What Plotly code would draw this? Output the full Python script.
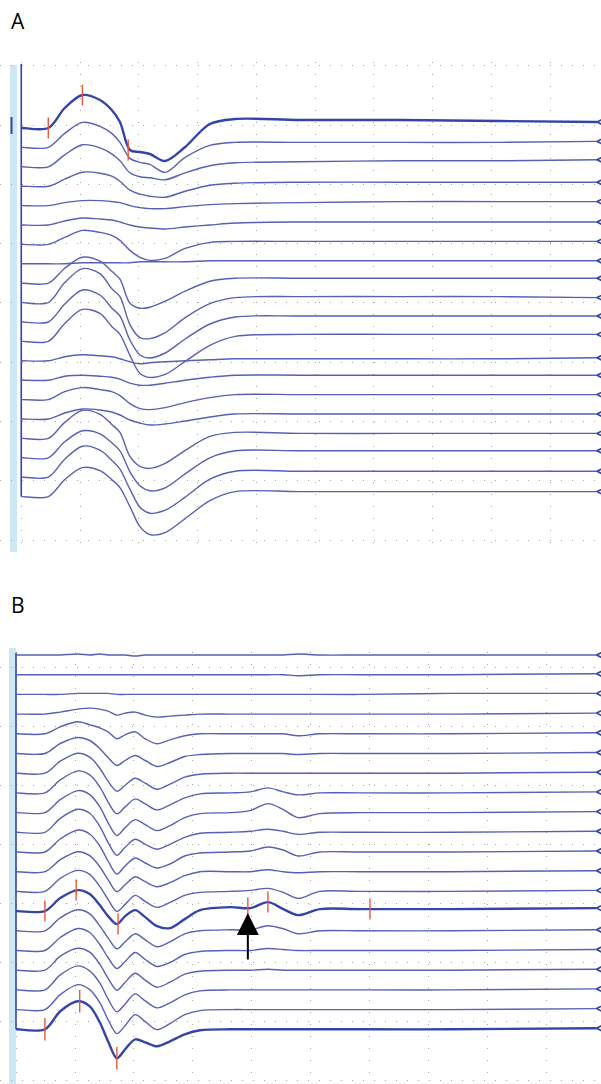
import plotly.graph_objects as go

# ---------------- Panel A ----------------
# sample times (ms) of the key points of every sweep
a_time_ms = [0.15, 2.3, 3.7, 5.2, 6.7, 7.7, 8.4, 9.25, 10.1, 10.95, 12.25, 13.95, 16.05, 18.2, 23.7, 32.2, 40.75, 49.0]
# amplitudes (uV) relative to each sweep's own baseline, top sweep first
a_sweeps_uv = [
    [0, 0, 200, 330, 280, 180, 60, -220, -240, -260, -330, -190, 40, 90, 80, 80, 70, 60],
    [0, 0, 140, 250, 210, 140, 50, -110, -150, -170, -250, -100, 20, 50, 50, 50, 50, 60],
    [0, 0, 120, 220, 190, 130, 60, -60, -100, -110, -130, -60, 10, 40, 50, 60, 60, 70],
    [0, 0, 70, 140, 130, 100, 50, -40, -80, -100, -110, -50, 10, 30, 40, 40, 40, 40],
    [0, 0, 30, 50, 50, 40, 30, 0, -20, -30, -30, -10, 10, 20, 30, 40, 40, 40],
    [0, 0, 40, 70, 60, 50, 30, 0, -20, -30, -40, -20, 0, 20, 30, 30, 30, 30],
    [0, 0, 70, 140, 120, 90, 40, -60, -130, -160, -140, -40, 20, 30, 30, 30, 30, 30],
    [0, 0, 0, 10, 10, 10, 10, 10, 20, 20, 20, 20, 30, 30, 30, 30, 30, 30],
    [0, 0, 150, 260, 220, 120, 40, -200, -250, -240, -180, -80, 20, 50, 50, 50, 50, 50],
    [0, 0, 200, 340, 290, 140, 60, -220, -350, -360, -300, -150, -10, 50, 60, 60, 60, 50],
    [0, 0, 180, 320, 270, 140, 60, -180, -330, -360, -310, -170, -20, 50, 60, 60, 60, 60],
    [0, 0, 180, 320, 280, 150, 70, -140, -320, -360, -330, -200, -40, 50, 70, 70, 70, 70],
    [0, 0, 40, 60, 50, 40, 20, -10, -30, -20, -10, 0, 10, 20, 20, 20, 20, 30],
    [0, 0, 40, 50, 40, 30, 10, -30, -50, -50, -30, 0, 30, 50, 50, 50, 50, 50],
    [0, 0, 80, 120, 100, 80, 40, -40, -90, -100, -80, -30, 20, 50, 50, 50, 50, 50],
    [0, 0, 60, 100, 90, 70, 40, -10, -40, -60, -50, -20, 20, 50, 50, 50, 50, 50],
    [0, 0, 160, 280, 240, 140, 60, -180, -280, -300, -250, -120, 20, 60, 50, 50, 50, 50],
    [0, 0, 160, 270, 240, 150, 70, -140, -280, -330, -300, -160, 0, 70, 70, 70, 70, 70],
    [0, 0, 180, 310, 270, 170, 80, -120, -300, -360, -330, -200, -20, 60, 60, 60, 60, 60],
    [0, 0, 170, 290, 260, 170, 90, -100, -300, -380, -360, -220, -40, 50, 50, 50, 50, 50],
]
a_step_uv = 194
a_cursor_t = [2.3, 5.2, 9.1]
a_cursor_uv = [0, 330, -220]

# ---------------- Panel B ----------------
b_time_ms = [0.1, 2.45, 3.75, 5.25, 6.25, 7.1, 7.8, 8.55, 9.25, 10.1, 10.95, 11.95, 13.05, 14.3,
             15.6, 18.15, 19.85, 21.35, 22.65, 23.9, 25.75, 29.15, 36.8, 49.2]
b_sweeps_uv = [
    [0, 0, 0, 10, 0, 10, 0, 0, 0, -10, 0, 0, 0, 0, 0, 0, 0, 0, 0, 10, 0, 0, 0, 0],
    [0, 0, 0, 0, 0, 0, 0, 0, 0, 0, 0, 0, 0, 0, 0, 0, 0, 0, 0, -10, 0, 0, 0, 10],
    [0, 0, 0, 10, 10, 10, 10, 0, 0, 0, 0, 0, 0, 0, 0, 0, 0, 0, 0, 0, 0, 0, 10, 10],
    [0, 0, 20, 50, 60, 50, 30, -10, 10, 20, -10, -30, -20, -10, 0, 0, 0, 0, 0, 0, 0, 0, 0, 10],
    [0, 0, 70, 120, 90, 60, 20, -50, -10, 20, -50, -100, -60, -20, 0, 0, 0, 0, 0, -20, 0, 0, 0, 10],
    [0, 0, 100, 160, 130, 50, -40, -120, -70, -20, -70, -130, -90, -30, -10, 0, 0, 0, 0, -10, 0, 0, 0, 10],
    [0, 0, 120, 200, 160, 50, -80, -180, -120, -50, -100, -160, -110, -40, -10, 0, 0, 0, 0, 0, 0, 0, 0, 10],
    [0, 0, 130, 220, 180, 60, -90, -210, -140, -60, -110, -170, -120, -50, -10, 0, 10, 50, 10, -20, 0, 0, 0, 10],
    [0, 0, 130, 220, 180, 60, -100, -230, -150, -70, -120, -180, -130, -50, -10, 0, 20, 90, 30, -50, -10, 0, 0, 10],
    [0, 0, 140, 230, 190, 60, -100, -230, -150, -70, -120, -170, -120, -50, -10, 0, 10, 30, 10, -20, 0, 0, 0, 10],
    [0, 0, 130, 220, 180, 60, -90, -220, -140, -60, -110, -160, -120, -40, -10, 0, 10, 50, 20, -40, 0, 0, 0, 10],
    [0, 0, 120, 200, 160, 50, -80, -200, -130, -50, -100, -150, -110, -40, 0, 0, 0, 20, 0, -10, 0, 0, 0, 10],
    [0, 0, 130, 210, 170, 50, -80, -200, -130, -40, -100, -160, -110, -40, -10, 0, 10, 30, -10, -70, 0, 0, 0, 10],
    [0, 0, 130, 210, 170, 60, -50, -130, -50, 10, -60, -150, -170, -80, 10, 40, 30, 90, 20, -40, 20, 20, 20, 30],
    [0, 0, 130, 210, 170, 50, -70, -180, -110, -30, -90, -160, -110, -30, 0, 10, 10, 50, 20, -30, 0, 0, 0, 10],
    [0, 0, 130, 220, 180, 60, -70, -180, -110, -20, -90, -160, -120, -40, -10, 0, 0, 20, 10, 0, 0, 0, 0, 10],
    [0, 0, 140, 220, 180, 60, -80, -200, -120, -30, -100, -170, -120, -40, -10, 0, 0, 10, 0, 0, 0, 0, 0, 10],
    [0, 0, 150, 240, 190, 70, -90, -220, -140, -40, -110, -180, -130, -50, -10, 0, 0, 0, 0, 0, 0, 0, 0, 10],
    [0, 0, 150, 250, 200, 70, -100, -240, -160, -50, -120, -200, -140, -50, -10, 0, 0, 0, 0, 0, 0, 0, 0, 10],
    [0, 0, 180, 280, 230, 70, -120, -290, -200, -100, -130, -170, -120, -50, -10, 0, 0, 0, 0, 0, 0, 0, 0, 10],
]
b_step_uv = 197
b_sel_index = 13
b_sel_cursor_t = [2.45, 5.1, 8.65, 19.65, 21.35, 30.0]
b_sel_cursor_uv = [0, 210, -130, 30, 90, 20]
b_last_cursor_t = [2.45, 5.4, 8.55]
b_last_cursor_uv = [0, 280, -290]
b_arrow_t = 19.65
b_arrow_uv = -20

THIN = "#5860b4"
THICK = "#3545a6"
RED = "#e8583c"
GRID = "#a4a4a4"

fig = go.Figure()


def add_panel(times, sweeps, step, xa, ya, thick_idx, stim_top):
    n = len(sweeps)
    # stimulus line at t = 0
    fig.add_trace(go.Scatter(x=[0, 0], y=[stim_top, -(n - 1) * step], mode="lines",
                             line=dict(color=THICK, width=1.6), xaxis=xa, yaxis=ya,
                             hoverinfo="skip", showlegend=False))
    ends = []
    for i, row in enumerate(sweeps):
        base = -i * step
        ys = [base] + [base + v for v in row]
        xs = [0] + list(times)
        fig.add_trace(go.Scatter(
            x=xs, y=ys, mode="lines",
            line=dict(color=THICK if i in thick_idx else THIN,
                      width=2.4 if i in thick_idx else 1.4,
                      shape="spline", smoothing=0.9),
            xaxis=xa, yaxis=ya, hoverinfo="skip", showlegend=False))
        ends.append(ys[-1])
    fig.add_trace(go.Scatter(
        x=[times[-1]] * n, y=ends, mode="markers",
        marker=dict(symbol="arrow-left-open", size=11, color=THICK,
                    line=dict(color=THICK, width=1.7)),
        xaxis=xa, yaxis=ya, hoverinfo="skip", showlegend=False))


def add_cursors(ts, vs, base, xa, ya, size):
    fig.add_trace(go.Scatter(
        x=ts, y=[base + v for v in vs], mode="markers",
        marker=dict(symbol="line-ns", size=size, color=RED, line=dict(color=RED, width=1.4)),
        xaxis=xa, yaxis=ya, hoverinfo="skip", showlegend=False))


add_panel(a_time_ms, a_sweeps_uv, a_step_uv, "x", "y", {0}, 640)
add_panel(b_time_ms, b_sweeps_uv, b_step_uv, "x2", "y2", {b_sel_index, len(b_sweeps_uv) - 1}, 20)
add_cursors(a_cursor_t, a_cursor_uv, 0, "x", "y", 15)
add_cursors(b_sel_cursor_t, b_sel_cursor_uv, -b_sel_index * b_step_uv, "x2", "y2", 15)
add_cursors(b_last_cursor_t, b_last_cursor_uv, -(len(b_sweeps_uv) - 1) * b_step_uv, "x2", "y2", 16)

W, H = 601, 1084


def py(px):
    return 1 - px / H


axis_common = dict(showticklabels=False, ticks="", zeroline=False, showline=False,
                   showgrid=True, gridcolor=GRID, gridwidth=1, fixedrange=True)

fig.update_layout(
    width=W, height=H, margin=dict(l=0, r=0, t=0, b=0),
    paper_bgcolor="white", plot_bgcolor="white", showlegend=False,
    xaxis=dict(domain=[0, 1], anchor="y", range=[-1.809, 49.34], tick0=0, dtick=5,
               griddash="1px,11px", **axis_common),
    yaxis=dict(domain=[py(552), py(62)], anchor="x", range=[-4240, 660], tick0=30, dtick=593,
               griddash="1px,10px", **axis_common),
    xaxis2=dict(domain=[0, 1], anchor="y2", range=[-1.356, 49.58], tick0=0, dtick=5,
                griddash="1px,11px", **axis_common),
    yaxis2=dict(domain=[0, py(652)], anchor="x2", range=[-4290, 30], tick0=-120, dtick=590,
                griddash="1px,10px", **axis_common),
    shapes=[
        dict(type="rect", xref="paper", yref="paper", x0=10 / W, x1=17 / W, y0=py(552), y1=py(65),
             fillcolor="#cde8f2", line=dict(width=0), layer="below"),
        dict(type="rect", xref="paper", yref="paper", x0=9 / W, x1=16 / W, y0=0, y1=py(648),
             fillcolor="#cde8f2", line=dict(width=0), layer="below"),
        dict(type="line", xref="paper", yref="paper", x0=11.5 / W, x1=11.5 / W, y0=py(134), y1=py(117),
             line=dict(color=THICK, width=2)),
    ],
    annotations=[
        dict(text="A", xref="paper", yref="paper", x=9 / W, y=py(21), xanchor="left", yanchor="middle",
             showarrow=False, font=dict(family="Open Sans, Liberation Sans, sans-serif", size=21, color="black")),
        dict(text="B", xref="paper", yref="paper", x=9 / W, y=py(605), xanchor="left", yanchor="middle",
             showarrow=False, font=dict(family="Open Sans, Liberation Sans, sans-serif", size=21, color="black")),
        dict(text="", x=b_arrow_t, y=-b_sel_index * b_step_uv + b_arrow_uv, xref="x2", yref="y2",
             showarrow=True, ax=0, ay=48, axref="pixel", ayref="pixel",
             arrowhead=2, arrowsize=2.2, arrowwidth=2, arrowcolor="black", standoff=0),
    ],
)

fig.write_html("out.html")
